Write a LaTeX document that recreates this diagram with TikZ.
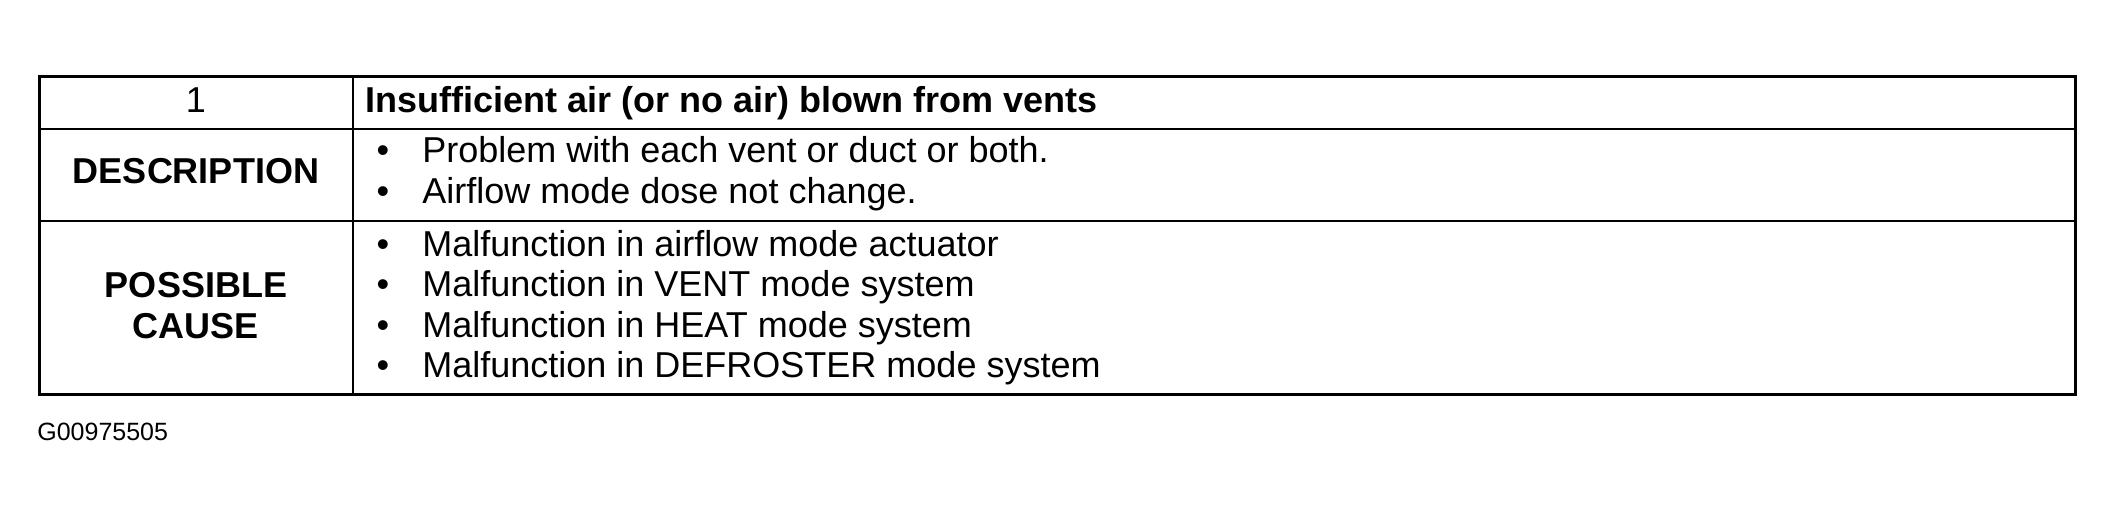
\documentclass[tikz,border=0pt]{standalone}
\usepackage{fontspec}
\setmainfont{Liberation Sans}
\tikzset{
  cell/.style={inner sep=0pt,font=\fontsize{18pt}{20pt}\selectfont},
  head/.style={cell,font=\fontsize{18pt}{20pt}\selectfont\bfseries},
  frame/.style={line width=1.5pt},
  rule/.style={line width=1.1pt}
}
\begin{document}
\begin{tikzpicture}[x=0.5pt,y=-0.5pt]
\useasboundingbox (0,0) rectangle (2115,516);
% table lines
\draw[frame] (39,76) rectangle (2075,394);
\draw[rule] (39,129) -- (2075,129);
\draw[rule] (39,221) -- (2075,221);
\draw[rule] (353,76) -- (353,394);

% left column
\node(N)[cell,anchor=base] at (196,112) {1};
\node(D)[head,anchor=base] at (196,183) {DESCRIPTION};
\node(P)[head,anchor=base] at (196,297) {POSSIBLE};
\node(C)[head,anchor=base] at (196,338) {CAUSE};

% right column
\node(H)[head,anchor=base west] at (365,112) {Insufficient air (or no air) blown from vents};
\foreach \y/\t [count=\i] in {162/Problem with each vent or duct or both.,203/Airflow mode dose not change.}{
  \node(db\i)[cell,anchor=base] at (383,\y) {•};
  \node(d\i)[cell,anchor=base west] at (422,\y) {\t};
}
\foreach \y/\t [count=\i] in {256/Malfunction in airflow mode actuator,296/Malfunction in VENT mode system,337/Malfunction in HEAT mode system,377/Malfunction in DEFROSTER mode system}{
  \node(cb\i)[cell,anchor=base] at (383,\y) {•};
  \node(c\i)[cell,anchor=base west] at (422,\y) {\t};
}

\node(G)[inner sep=0pt,anchor=base west,font=\fontsize{12.5pt}{14pt}\selectfont] at (37,440) {G00975505};
\end{tikzpicture}
\end{document}
